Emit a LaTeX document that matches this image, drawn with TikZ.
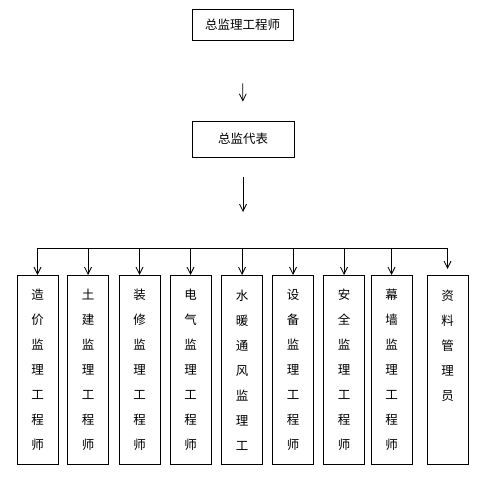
\documentclass[tikz,border=0pt]{standalone}
\usepackage{fontspec}
\newfontfamily\cjk{Noto Sans CJK SC}
\usetikzlibrary{arrows.meta}

\tikzset{
	box/.style={draw,line width=0.8pt,inner sep=0pt,font=\cjk\fontsize{12.5pt}{15pt}\selectfont},
	col/.style={draw,line width=0.8pt,inner sep=0pt,anchor=north,minimum width=41pt,minimum height=189pt,align=center,font=\cjk\fontsize{12.5pt}{25pt}\selectfont},
	link/.style={line width=0.8pt,->}
}

\begin{document}
\begin{tikzpicture}[x=1pt,y=-1pt,>={Straight Barb[length=7pt,width=7pt]}]
	\useasboundingbox[fill=white] (0,0) rectangle (481,476);

	\node[box,minimum width=101pt,minimum height=31pt] (zj) at (242.5,24.5) {总监理工程师};
	\node[box,minimum width=102pt,minimum height=36pt] (db) at (243,139) {总监代表};
	\coordinate (bus) at (243,248);

	\node[col] (b1) at (37.5,275) {造\\价\\监\\理\\工\\程\\师};
	\node[col] (b2) at (88,275) {土\\建\\监\\理\\工\\程\\师};
	\node[col] (b3) at (139.5,275) {装\\修\\监\\理\\工\\程\\师};
	\node[col] (b4) at (190.5,275) {电\\气\\监\\理\\工\\程\\师};
	\node[col] (b5) at (242,275) {水\\暖\\通\\风\\监\\理\\工};
	\node[col] (b6) at (293,275) {设\\备\\监\\理\\工\\程\\师};
	\node[col] (b7) at (344,275) {安\\全\\监\\理\\工\\程\\师};
	\node[col] (b8) at (391.5,275) {幕\\墙\\监\\理\\工\\程\\师};
	\node[col] (b9) at (447.5,275) {资\\料\\管\\理\\员\\\\};

	\draw[link,shorten <=43pt,shorten >=19pt] (zj) -- (db);
	\draw[link,shorten <=20pt,shorten >=36pt] (db) -- (bus);

	\draw[line width=0.8pt] (b1.north |- bus) -- (b9.north |- bus);
	\draw[link] (b1.north |- bus) -- (b1.north);
	\draw[link] (b2.north |- bus) -- (b2.north);
	\draw[link] (b3.north |- bus) -- (b3.north);
	\draw[link] (b4.north |- bus) -- (b4.north);
	\draw[link] (b5.north |- bus) -- (b5.north);
	\draw[link] (b6.north |- bus) -- (b6.north);
	\draw[link] (b7.north |- bus) -- (b7.north);
	\draw[link] (b8.north |- bus) -- (b8.north);
	\draw[link,shorten >=6pt] (b9.north |- bus) -- (b9.north);

\end{tikzpicture}
\end{document}
